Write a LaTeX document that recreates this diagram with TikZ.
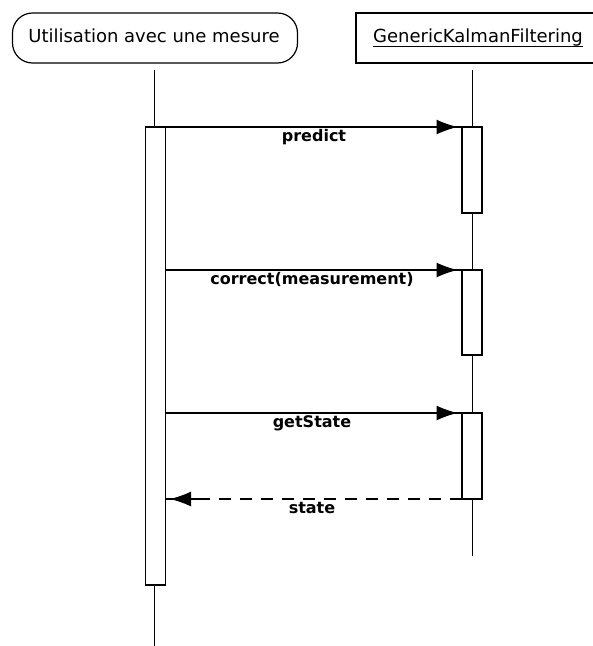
\documentclass[tikz,border=0pt]{standalone}
\usepackage{fontspec}
\setmainfont{DejaVu Sans}
\usetikzlibrary{arrows.meta,calc}
\begin{document}
\begin{tikzpicture}[x=1pt,y=-1pt,
  every node/.style={inner sep=0pt,outer sep=0pt},
  hdr/.style={draw,line width=1.2pt,minimum height=50pt,anchor=north west},
  life/.style={line width=1.1pt},
  act/.style={draw,line width=1.1pt,fill=white,minimum width=20pt,anchor=north},
  msghead/.style={-{Latex[length=21pt,width=15pt]},line width=1.1pt},
  msgline/.style={line width=1.1pt},
  retline/.style={line width=1.1pt,dash pattern=on 12pt off 9pt},
  lbl/.style={font=\fontsize{16}{16}\selectfont\bfseries,anchor=base},
  htext/.style={font=\fontsize{18}{18}\selectfont,anchor=base}]
\useasboundingbox (0,0) rectangle (593,646);
\clip (0,0) rectangle (593,646);
% headers
\node[hdr,rounded corners=20pt,minimum width=285pt] (u) at (12.5,13) {};
\node[htext] (ut) at (154,42.5) {Utilisation avec une mesure};
\node[hdr,minimum width=245pt] (g) at (356,13) {};
\node[htext] (gt) at (478,42.5) {GenericKalmanFiltering};
\draw[line width=1pt] ($(gt.base west)+(0,4)$) coordinate (ul1) -- ($(gt.base east)+(0,4)$) coordinate (ul2);
% lifelines
\coordinate (uend) at (154.5,646);
\coordinate (gend) at (472.5,556);
\draw[life] (154.5,70) coordinate (utop) -- (uend);
\draw[life] (472.5,70) coordinate (gtop) -- (gend);
% activations
\node[act,minimum height=458pt] (ua) at (155.5,127) {};
\node[act,minimum height=86pt] (g1) at (472,127) {};
\node[act,minimum height=85pt] (g2) at (472,270) {};
\node[act,minimum height=86pt] (g3) at (472,413) {};
% messages
\coordinate (m1s) at (ua.east |- g1.north);
\coordinate (m2s) at (ua.east |- g2.north);
\coordinate (m3s) at (ua.east |- g3.north);
\coordinate (r1s) at (ua.east |- g3.south);
\draw[msgline] (m1s) -- (g1.north west);
\draw[msghead,shorten >=4.5pt] (m1s) -- (g1.north west);
\draw[msgline] (m2s) -- (g2.north west);
\draw[msghead,shorten >=4.5pt] (m2s) -- (g2.north west);
\draw[msgline] (m3s) -- (g3.north west);
\draw[msghead,shorten >=4.5pt] (m3s) -- (g3.north west);
\draw[retline] (g3.south west) -- (r1s);
\coordinate (rj) at ($(r1s)+(36,0)$);
\draw[msgline] (rj) -- (r1s);
\draw[msghead,shorten >=4.5pt] (rj) -- (r1s);
% labels
\node[lbl] (l1) at (314,141) {predict};
\node[lbl] (l2) at (312,284.5) {correct(measurement)};
\node[lbl] (l3) at (312,427) {getState};
\node[lbl] (l4) at (312,513) {state};
\end{tikzpicture}
\end{document}
